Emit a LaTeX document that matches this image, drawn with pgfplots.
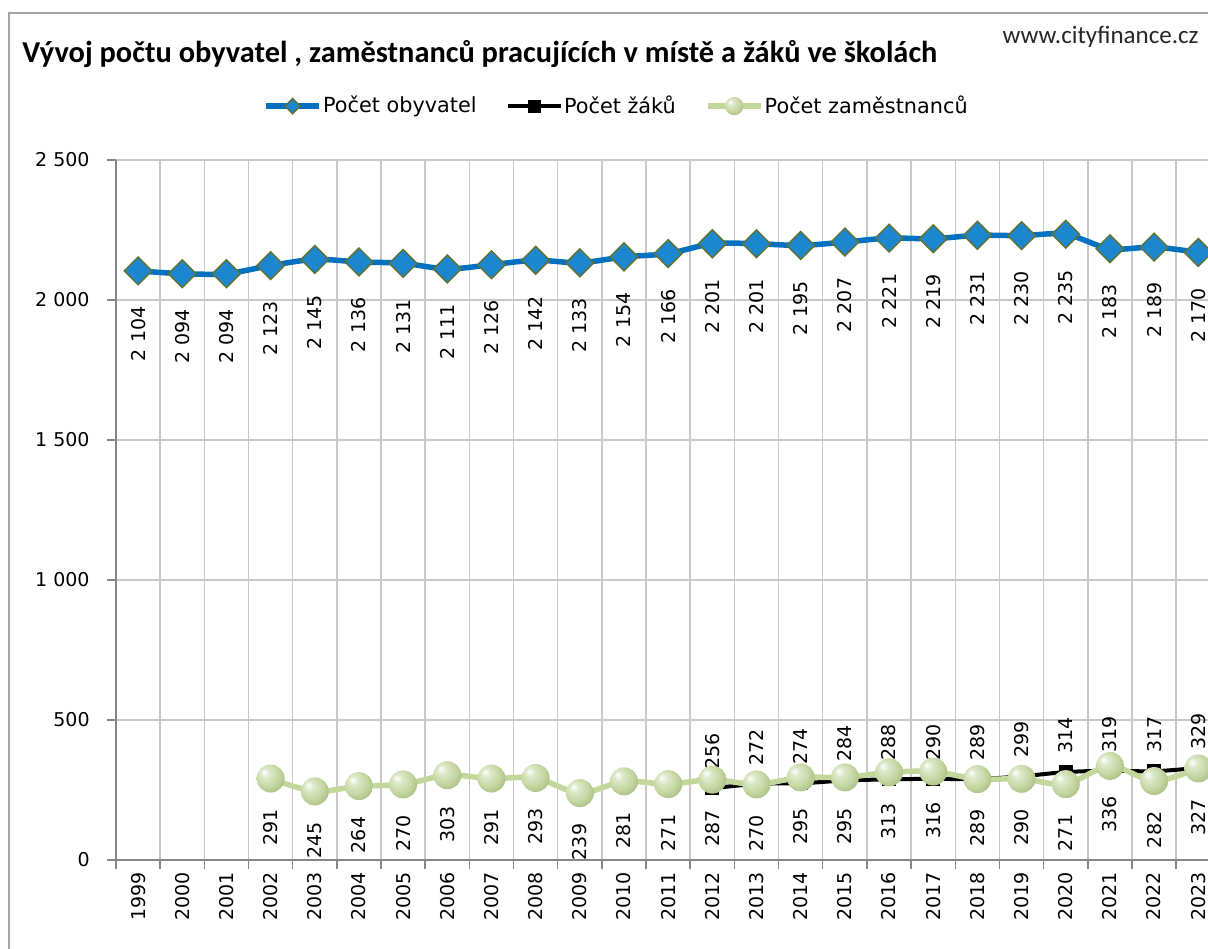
\documentclass[border=0pt]{standalone}
\usepackage{fontspec}
\setmainfont{DejaVu Sans}
\newfontfamily\titlefont{Carlito}
\usepackage{pgfplots}
\pgfplotsset{compat=1.18}
\usetikzlibrary{plotmarks}
\definecolor{popblue}{RGB}{0,112,192}
\definecolor{diamfill}{RGB}{28,134,206}
\definecolor{diamdraw}{RGB}{95,115,55}
\definecolor{empgreen}{RGB}{196,215,155}
\definecolor{ballgreen}{RGB}{196,214,160}
\definecolor{balledge}{RGB}{150,170,112}
\definecolor{gridgray}{RGB}{200,200,200}
\definecolor{axisgray}{RGB}{134,134,134}
\definecolor{framegray}{RGB}{165,165,165}
\pgfdeclareradialshading{greenball}{\pgfpoint{-12bp}{12bp}}{color(0bp)=(white); color(8bp)=(ballgreen!55!white); color(22bp)=(ballgreen); color(40bp)=(balledge); color(50bp)=(balledge)}
\pgfdeclareplotmark{gball}{\pgfpathcircle{\pgfpointorigin}{\pgfplotmarksize}\pgfshadepath{greenball}{0}\pgfusepath{discard}}
\pgfkeys{/pgf/number format/.cd, assume math mode=true, 1000 sep={\ }}
\pgfplotsset{myleg/.style={legend image code/.code={\draw[mark repeat=2,mark phase=2,##1, every mark/.append style={scale=#1}] plot coordinates {(0pt,0pt)(13.25pt,0pt)(26.5pt,0pt)};}}}

\pgfplotstableread{
year pop
1999 2104
2000 2094
2001 2094
2002 2123
2003 2145
2004 2136
2005 2131
2006 2111
2007 2126
2008 2142
2009 2133
2010 2154
2011 2166
2012 2201
2013 2201
2014 2195
2015 2207
2016 2221
2017 2219
2018 2231
2019 2230
2020 2235
2021 2183
2022 2189
2023 2170
}\popdata

\pgfplotstableread{
year pupils
2012 256
2013 272
2014 274
2015 284
2016 288
2017 290
2018 289
2019 299
2020 314
2021 319
2022 317
2023 329
}\pupildata

\pgfplotstableread{
year emp
2002 291
2003 245
2004 264
2005 270
2006 303
2007 291
2008 293
2009 239
2010 281
2011 271
2012 287
2013 270
2014 295
2015 295
2016 313
2017 316
2018 289
2019 290
2020 271
2021 336
2022 282
2023 327
}\empdata

\begin{document}
\begin{tikzpicture}[font=\fontsize{9.5pt}{11pt}\selectfont]
\path[use as bounding box, clip] (0,0) rectangle (604pt,-474pt);
\fill[white] (0,0) rectangle (604pt,-474pt);
\draw[framegray, line width=0.75pt] (4.5pt,-480pt) -- (4.5pt,-6.5pt) -- (610pt,-6.5pt);
\node[anchor=base west, inner sep=0pt, font=\titlefont\bfseries\fontsize{15.2pt}{17pt}\selectfont] at (11pt,-31pt) {Vývoj počtu obyvatel , zaměstnanců pracujících v místě a žáků ve školách};
\node[anchor=base east, inner sep=0pt, font=\titlefont\fontsize{12.5pt}{14pt}\selectfont, black!85] at (599.5pt,-21.5pt) {www.cityfinance.cz};
\begin{axis}[
  at={(58pt,-430pt)}, anchor=south west,
  scale only axis, width=546pt, height=350pt,
  xmin=1998.5, xmax=2023.22, ymin=0, ymax=2500,
  axis x line*=bottom, axis y line*=left,
  axis line style={-, axisgray, line width=0.75pt},
  xtick={1999,...,2023}, ytick={0,500,...,2500},
  minor xtick={1998.5,1999.5,...,2022.5}, minor ytick={0,500,...,2500},
  major tick length=0pt, minor tick length=4.5pt, tick align=outside,
  grid=minor, minor grid style={gridgray, line width=0.75pt},
  minor tick style={axisgray, line width=0.75pt},
  xticklabel style={/pgf/number format/1000 sep={}, yshift=-6pt, rotate=90, anchor=east, inner sep=0pt},
  yticklabel style={inner sep=0pt, xshift=-13pt, anchor=east},
  legend style={at={(0.458,1.077)}, anchor=center, draw=none, fill=none, legend columns=3,
    font=\fontsize{10.4pt}{12pt}\selectfont,
    /tikz/every even column/.append style={column sep=14pt},
    inner sep=0pt, nodes={inner sep=0.6pt}},
  legend cell align=left,
]
\addplot[popblue, line width=2.75pt, smooth, tension=0.5,
  mark=square*, mark size=4.9pt,
  mark options={rotate=45, fill=diamfill, draw=diamdraw, line width=0.75pt, solid},
  myleg=0.55,
  nodes near coords,
  every node near coord/.append style={black, yshift=-17.5pt, rotate=90, anchor=east, inner sep=0pt, font=\fontsize{9.5pt}{11pt}\selectfont}]
  table[x=year, y=pop] {\popdata};
\addlegendentry{Počet obyvatel}
\addplot[black, line width=2pt, smooth, tension=0.5,
  mark=square*, mark size=3.3pt,
  mark options={fill=black, draw=black, line width=0.5pt, solid},
  myleg=0.9,
  nodes near coords,
  every node near coord/.append style={black, yshift=9pt, rotate=90, anchor=west, inner sep=0pt, font=\fontsize{9.5pt}{11pt}\selectfont}]
  table[x=year, y=pupils] {\pupildata};
\addlegendentry{Počet žáků}
\addplot[empgreen, line width=2.75pt, smooth, tension=0.5,
  mark=gball, mark size=7pt,
  mark options={solid},
  myleg=0.65,
  nodes near coords,
  every node near coord/.append style={black, yshift=-14pt, rotate=90, anchor=east, inner sep=0pt, font=\fontsize{9.5pt}{11pt}\selectfont}]
  table[x=year, y=emp] {\empdata};
\addlegendentry{Počet zaměstnanců}
\end{axis}
\end{tikzpicture}
\end{document}
